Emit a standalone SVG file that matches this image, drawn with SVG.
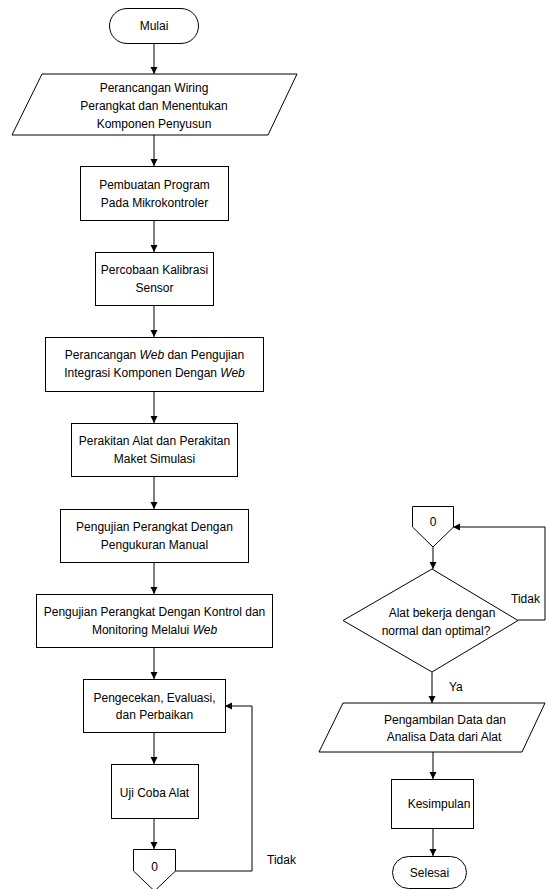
<svg xmlns="http://www.w3.org/2000/svg" width="546" height="889" viewBox="0 0 546 889">
<style>
.s{fill:#fff;stroke:#000;stroke-width:1}
.t{font-family:"Liberation Sans",Arial,sans-serif;font-size:12px;fill:#000;text-anchor:middle}
.l{font-family:"Liberation Sans",Arial,sans-serif;font-size:12px;fill:#000}
.c{fill:none;stroke:#000;stroke-width:1}
</style>
<defs>
<marker id="a" markerUnits="userSpaceOnUse" markerWidth="8" markerHeight="8" refX="7" refY="3.5" orient="auto">
<path d="M0,0 L7,3.5 L0,7 z" fill="#000"/>
</marker>
</defs>
<rect width="546" height="889" fill="#fff"/>
<g id="connectors">
<line class="c" x1="154" y1="43" x2="154" y2="74" marker-end="url(#a)"/>
<line class="c" x1="154" y1="135" x2="154" y2="166" marker-end="url(#a)"/>
<line class="c" x1="154" y1="220" x2="154" y2="252" marker-end="url(#a)"/>
<line class="c" x1="154" y1="305" x2="154" y2="337" marker-end="url(#a)"/>
<line class="c" x1="154" y1="391" x2="154" y2="423" marker-end="url(#a)"/>
<line class="c" x1="154" y1="476" x2="154" y2="509" marker-end="url(#a)"/>
<line class="c" x1="154" y1="562" x2="154" y2="594" marker-end="url(#a)"/>
<line class="c" x1="154" y1="647" x2="154" y2="679" marker-end="url(#a)"/>
<line class="c" x1="154" y1="732" x2="154" y2="764" marker-end="url(#a)"/>
<line class="c" x1="154" y1="818" x2="154" y2="849" marker-end="url(#a)"/>
<path class="c" d="M175,871 H252 V706 H225" marker-end="url(#a)"/>
<path class="c" d="M518,620 H545 V527 H453" marker-end="url(#a)"/>
<line class="c" x1="433" y1="547" x2="433" y2="569" marker-end="url(#a)"/>
<line class="c" x1="432" y1="672" x2="432" y2="703" marker-end="url(#a)"/>
<line class="c" x1="433" y1="752" x2="433" y2="779" marker-end="url(#a)"/>
<line class="c" x1="433" y1="828" x2="433" y2="856" marker-end="url(#a)"/>
<text class="l" x="267" y="864">Tidak</text>
<text class="l" x="511" y="603">Tidak</text>
<text class="l" x="449" y="691">Ya</text>
</g>
<g id="mulai">
<rect class="s" x="109.5" y="8.5" width="89" height="35" rx="17.5"/>
<text class="t" x="154" y="30">Mulai</text>
</g>
<g id="wiring">
<polygon class="s" points="42,74 297,74 268,135 12,135"/>
<text class="t" x="154" y="92">Perancangan Wiring</text>
<text class="t" x="154" y="110">Perangkat dan Menentukan</text>
<text class="t" x="154" y="128">Komponen Penyusun</text>
</g>
<g id="program">
<rect class="s" x="80.5" y="166.5" width="148" height="54"/>
<text class="t" x="154.5" y="189">Pembuatan Program</text>
<text class="t" x="154.5" y="207">Pada Mikrokontroler</text>
</g>
<g id="kalibrasi">
<rect class="s" x="95.5" y="252.5" width="118" height="53"/>
<text class="t" x="154.5" y="274">Percobaan Kalibrasi</text>
<text class="t" x="154.5" y="292">Sensor</text>
</g>
<g id="web">
<rect class="s" x="45.5" y="337.5" width="218" height="54"/>
<text class="t" x="154.5" y="359">Perancangan <tspan font-style="italic">Web</tspan> dan Pengujian</text>
<text class="t" x="154.5" y="377">Integrasi Komponen Dengan <tspan font-style="italic">Web</tspan></text>
</g>
<g id="perakitan">
<rect class="s" x="71.5" y="423.5" width="166" height="53"/>
<text class="t" x="154.5" y="445">Perakitan Alat dan Perakitan</text>
<text class="t" x="154.5" y="463">Maket Simulasi</text>
</g>
<g id="manual">
<rect class="s" x="60.5" y="509.5" width="188" height="53"/>
<text class="t" x="154.5" y="531">Pengujian Perangkat Dengan</text>
<text class="t" x="154.5" y="549">Pengukuran Manual</text>
</g>
<g id="kontrol">
<rect class="s" x="36.5" y="594.5" width="236" height="53"/>
<text class="t" x="154.5" y="616">Pengujian Perangkat Dengan Kontrol dan</text>
<text class="t" x="154.5" y="634">Monitoring Melalui <tspan font-style="italic">Web</tspan></text>
</g>
<g id="evaluasi">
<rect class="s" x="83.5" y="679.5" width="142" height="53"/>
<text class="t" x="154.5" y="702">Pengecekan, Evaluasi,</text>
<text class="t" x="154.5" y="719">dan Perbaikan</text>
</g>
<g id="ujicoba">
<rect class="s" x="111.5" y="764.5" width="87" height="54"/>
<text class="t" x="154.5" y="797">Uji Coba Alat</text>
</g>
<g id="conn-left">
<polygon class="s" points="133.5,849.5 175.5,849.5 175.5,871 154.5,891 133.5,871"/>
<text class="t" x="154.5" y="871">0</text>
</g>
<g id="conn-right">
<polygon class="s" points="412.5,506.5 453.5,506.5 453.5,527 433,547 412.5,527"/>
<text class="t" x="433" y="526">0</text>
</g>
<g id="decision">
<polygon class="s" points="432,569 518,620.5 432,672 343,620.5"/>
<text class="t" x="442" y="617">Alat bekerja dengan</text>
<text class="t" x="436" y="635">normal dan optimal?</text>
</g>
<g id="pengambilan">
<polygon class="s" points="343,703 545,703 522,752 319,752"/>
<text class="t" x="445" y="724">Pengambilan Data dan</text>
<text class="t" x="444" y="741">Analisa Data dari Alat</text>
</g>
<g id="kesimpulan">
<rect class="s" x="391.5" y="779.5" width="82" height="49"/>
<text class="t" x="439" y="808">Kesimpulan</text>
</g>
<g id="selesai">
<rect class="s" x="392.5" y="856.5" width="74" height="32" rx="16"/>
<text class="t" x="429.5" y="877">Selesai</text>
</g>
</svg>
